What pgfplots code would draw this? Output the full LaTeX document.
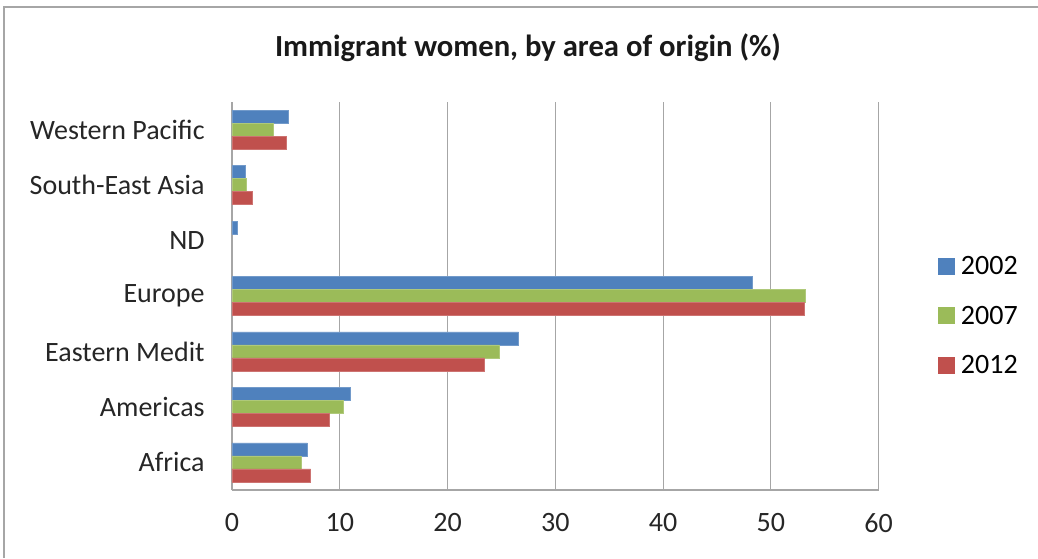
\documentclass[border=0pt]{standalone}
\usepackage{pgfplots}
\pgfplotsset{compat=1.18}
\usepackage{fontspec}
\setmainfont{Carlito}
\definecolor{cblue}{HTML}{4F81BD}
\definecolor{cgreen}{HTML}{9BBB59}
\definecolor{cred}{HTML}{C0504D}
\definecolor{gridgray}{HTML}{A6A6A6}
\begin{document}
\begin{tikzpicture}
\useasboundingbox (-174pt,-51pt) rectangle (604.5pt,367.5pt);
\draw[gridgray,line width=1.5pt] (-171pt,-51pt) -- (-171pt,362.25pt) -- (604.5pt,362.25pt);
\begin{axis}[
  at={(0pt,0pt)}, anchor=south west,
  scale only axis,
  width=485pt, height=291pt,
  xbar, bar width=9.75pt,
  xmin=0, xmax=60,
  xtick={0,10,...,60},
  ymin=-0.5, ymax=6.5,
  ytick={0,...,6},
  yticklabels={Africa,Americas,Eastern Medit,Europe,ND,South-East Asia,Western Pacific},
  axis x line*=bottom, axis y line*=left,
  axis line style={gridgray, line width=0.9pt},
  major tick length=0pt,
  xmajorgrids, grid style={gridgray, line width=0.9pt},
  ymajorgrids=false,
  tick label style={font=\fontsize{21}{24}\selectfont, text=black!85},
  /pgf/number format/assume math mode=true,
  xticklabel style={yshift=-14pt},
  yticklabel style={xshift=-17pt},
  legend style={draw=none, at={(526pt,130.5pt)}, anchor=west, font=\fontsize{21}{24}\selectfont, row sep=18pt, legend cell align=left},
  legend image code/.code={\fill[#1, draw=none] (0pt,-6pt) rectangle (13pt,6.5pt); \path[draw=none, fill=none] (0pt,0pt) rectangle (15.5pt,0.1pt);},
  clip=false,
]
\addplot[fill=cblue, draw=cblue!80!white, bar shift=9.75pt] coordinates {(7.0,0) (11.0,1) (26.6,2) (48.3,3) (0.5,4) (1.2,5) (5.2,6)};
\addplot[fill=cgreen, draw=cgreen!80!white, bar shift=0pt] coordinates {(6.4,0) (10.3,1) (24.8,2) (53.2,3) (1.3,5) (3.8,6)};
\addplot[fill=cred, draw=cred!80!white, bar shift=-9.75pt] coordinates {(7.3,0) (9.0,1) (23.4,2) (53.1,3) (1.9,5) (5.0,6)};
\legend{2002,2007,2012}
\end{axis}
\node[font=\bfseries\fontsize{23}{26}\selectfont, text=black!90] at (222pt,331.5pt) {Immigrant women, by area of origin (\%)};
\end{tikzpicture}
\end{document}
